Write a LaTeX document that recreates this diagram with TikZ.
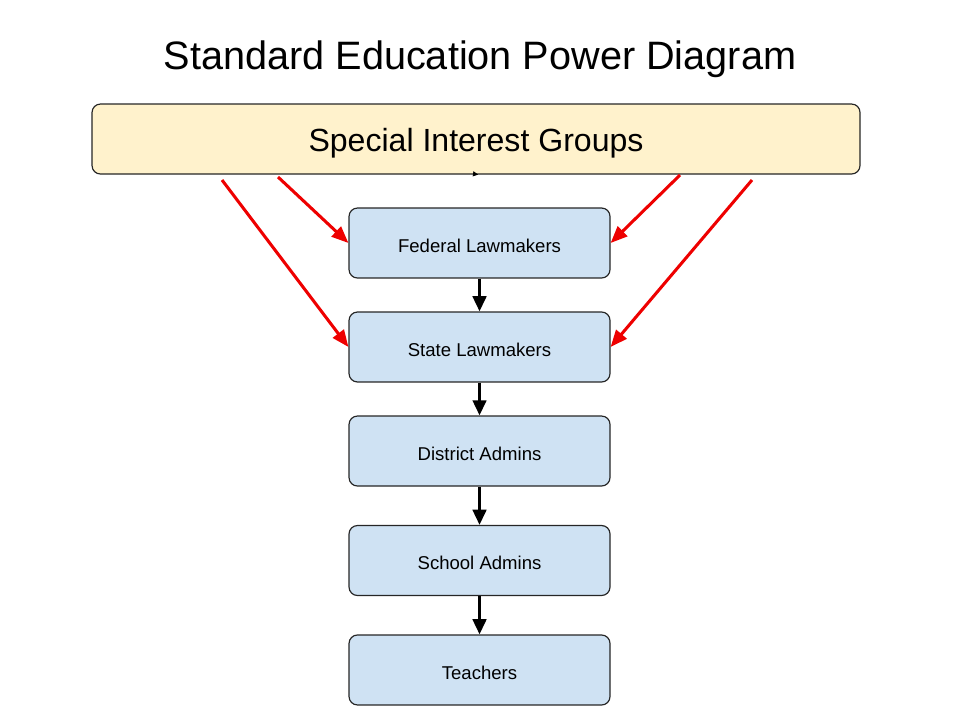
\documentclass[tikz,border=0pt]{standalone}
\usepackage{fontspec}
\setmainfont{Liberation Sans}
\usetikzlibrary{arrows.meta,positioning}

\definecolor{sigfill}{HTML}{FFF2CC}
\definecolor{boxfill}{HTML}{CFE2F3}
\definecolor{infl}{HTML}{EE0000}

\begin{document}
\begin{tikzpicture}[
    level/.style={draw=black!85, rounded corners=5pt, fill=boxfill, line width=0.7pt,
      minimum width=5.4375cm, minimum height=1.458cm, text height=11pt, font=\fontsize{11}{13}\selectfont},
    group/.style={draw=black!85, rounded corners=5pt, fill=sigfill, line width=0.7pt,
      minimum width=16cm, minimum height=1.458cm, text height=18.5pt, font=\fontsize{19}{22}\selectfont},
    down/.style={-{Triangle[length=9pt,width=8pt]}, line width=1.8pt, black},
    push/.style={-{Triangle[length=10pt,width=8pt]}, line width=1.8pt, infl},
    >=Stealth
  ]
    \useasboundingbox (0,0) rectangle (20,-15);

    \node[font=\fontsize{23.5}{27}\selectfont] (title) at (10,-1.23) {Standard Education Power Diagram};

    \node[group] (sig) at (9.917,-2.896) {Special Interest Groups};

    \node[level] (fed)   at (9.99,-5.0625) {Federal Lawmakers};
    \node[level] (state) at (9.99,-7.229)  {State Lawmakers};
    \node[level] (dist)  at (9.99,-9.396)  {District Admins};
    \node[level] (school) at (9.99,-11.677) {School Admins};
    \node[level] (teach) at (9.99,-13.958) {Teachers};

    % where the red lines leave the groups box
    \coordinate (s1) at (5.792,-3.6875);
    \coordinate (s2) at (4.625,-3.75);
    \coordinate (s3) at (14.167,-3.646);
    \coordinate (s4) at (15.667,-3.75);
    \coordinate (stub) at (9.88,-3.625);

    \draw[-{Triangle[length=3pt,width=3pt]}, line width=0.4pt] (stub) -- (sig.south -| 9.96,0);

    \draw[down] (fed) -- (state);
    \draw[down] (state) -- (dist);
    \draw[down] (dist) -- (school);
    \draw[down] (school) -- (teach);

    \draw[push] (s1) -- (fed.west);
    \draw[push] (s2) -- (state.west);
    \draw[push] (s3) -- (fed.east);
    \draw[push] (s4) -- (state.east);
  \end{tikzpicture}
\end{document}
